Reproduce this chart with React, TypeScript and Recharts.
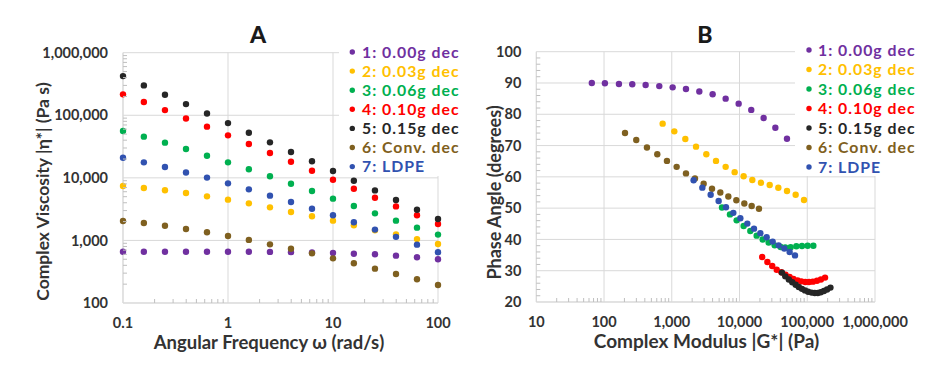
import React from 'react';
import { ScatterChart, Scatter, XAxis, YAxis, CartesianGrid } from 'recharts';

const FONT = 'Lato, "Open Sans", sans-serif';
const GRID = '#d9d9d9';
const TEXT = '#333333';

const seriesNames = ['1: 0.00g dec', '2: 0.03g dec', '3: 0.06g dec', '4: 0.10g dec', '5: 0.15g dec', '6: Conv. dec', '7: LDPE'];
const seriesColors = ['#7030A0', '#FFC000', '#00B050', '#FF0000', '#262626', '#7F6020', '#3152B0'];

// chart A: angular frequency (rad/s)
const omega = [0.1, 0.158, 0.251, 0.398, 0.631, 1, 1.58, 2.51, 3.98, 6.31, 10, 15.8, 25.1, 39.8, 63.1, 100];

// complex viscosity |eta*| (Pa s)
const eta1 = [660, 660, 660, 660, 660, 660, 658, 655, 650, 640, 630, 614, 600, 571, 537, 499];
const eta2 = [7400, 6880, 6330, 5720, 5060, 4480, 3910, 3380, 2850, 2430, 2070, 1740, 1450, 1250, 1050, 877];
const eta3 = [56000, 45500, 36500, 28900, 22600, 17700, 13700, 10600, 8070, 6170, 4650, 3550, 2710, 2070, 1600, 1240];
const eta4 = [216000, 163000, 121000, 89000, 65800, 47800, 34700, 24900, 18100, 13000, 9350, 6700, 4820, 3500, 2520, 1830];
const eta5 = [423000, 300000, 213000, 151000, 107000, 75000, 52700, 36900, 25900, 18400, 12900, 9000, 6300, 4430, 3100, 2200];
const eta6 = [2040, 1900, 1720, 1520, 1350, 1180, 1020, 866, 738, 622, 517, 431, 354, 291, 239, 194];
const eta7 = [21000, 17700, 14900, 12200, 10100, 8170, 6550, 5190, 4110, 3210, 2520, 1950, 1490, 1140, 856, 646];

// chart B: complex modulus |G*| (Pa) and phase angle (degrees)
const gStar1 = [66, 103, 166, 261, 411, 654, 1030, 1620, 2550, 4010, 6240, 9710, 14900, 22700, 33800, 50200];
const phase1 = [90.0, 89.9, 89.7, 89.6, 89.35, 89.0, 88.6, 88.1, 87.3, 86.4, 85.0, 83.4, 81.4, 78.8, 75.7, 72.2];
const gStar2 = [733, 1090, 1585, 2280, 3235, 4495, 6240, 8475, 11500, 15450, 20750, 27900, 37400, 50200, 67400, 89500];
const phase2 = [77.0, 74.55, 72.1, 69.65, 67.2, 65.1, 63.2, 61.5, 60.2, 59.0, 58.1, 57.4, 56.5, 55.5, 54.3, 52.6];
const gStar3 = [5510, 7230, 9070, 11510, 14430, 17900, 21970, 26920, 33030, 40500, 47430, 56880, 69000, 83600, 101400, 123000];
const phase3 = [50.2, 48.0, 46.1, 44.3, 42.7, 41.2, 40.0, 39.0, 38.1, 37.6, 37.4, 37.5, 37.8, 37.9, 38.0, 38.0];
const gStar4 = [21600, 25800, 30400, 35400, 41500, 47800, 54900, 62500, 72100, 82000, 93500, 106000, 121000, 139000, 159000, 183000];
const phase4 = [34.4, 32.8, 31.5, 30.3, 29.5, 28.7, 28.0, 27.4, 26.9, 26.6, 26.4, 26.4, 26.5, 26.8, 27.2, 27.8];
const gStar5 = [42300, 47400, 53500, 60100, 67500, 75000, 83500, 92700, 103000, 116000, 129000, 143000, 158000, 176000, 196000, 220000];
const phase5 = [29.4, 28.2, 27.2, 26.3, 25.5, 24.8, 24.2, 23.7, 23.3, 23.0, 22.9, 22.9, 23.1, 23.5, 24.0, 24.6];
const gStar6 = [204, 299, 430, 611, 849, 1180, 1620, 2200, 2955, 3925, 5210, 6840, 8975, 11780, 15110, 19380];
const phase6 = [74.0, 71.8, 69.4, 67.2, 65.1, 63.2, 61.1, 59.5, 57.8, 56.2, 55.0, 53.7, 52.5, 51.5, 50.7, 49.8];
const gStar7 = [2100, 2825, 3750, 4920, 6310, 8100, 10280, 13040, 16360, 20300, 25150, 30850, 37800, 45800, 54950, 65900];
const phase7 = [58.9, 56.55, 54.3, 52.3, 50.3, 48.5, 46.75, 45.05, 43.45, 42.0, 40.7, 39.3, 38.1, 37.1, 36.0, 34.9];

// axis ticks
const aXMajor = [0.1, 1, 10, 100];
const aXMinor = [0.2, 0.3, 0.4, 0.5, 0.6, 0.7, 0.8, 0.9, 2, 3, 4, 5, 6, 7, 8, 9, 20, 30, 40, 50, 60, 70, 80, 90];
const aYMajor = [100, 1000, 10000, 100000, 1000000];
const aYMinor = [200, 300, 400, 500, 600, 700, 800, 900, 2000, 3000, 4000, 5000, 6000, 7000, 8000, 9000,
  20000, 30000, 40000, 50000, 60000, 70000, 80000, 90000, 200000, 300000, 400000, 500000, 600000, 700000, 800000, 900000];
const bXMajor = [10, 100, 1000, 10000, 100000, 1000000];
const bXMinor = [20, 30, 40, 50, 60, 70, 80, 90, 200, 300, 400, 500, 600, 700, 800, 900,
  2000, 3000, 4000, 5000, 6000, 7000, 8000, 9000, 20000, 30000, 40000, 50000, 60000, 70000, 80000, 90000,
  200000, 300000, 400000, 500000, 600000, 700000, 800000, 900000];
const bYMajor = [20, 30, 40, 50, 60, 70, 80, 90, 100];
const bYMinor = [22, 24, 26, 28, 32, 34, 36, 38, 42, 44, 46, 48, 52, 54, 56, 58, 62, 64, 66, 68, 72, 74, 76, 78, 82, 84, 86, 88, 92, 94, 96, 98];

const etaSeries = [eta1, eta2, eta3, eta4, eta5, eta6, eta7];
const gSeries = [gStar1, gStar2, gStar3, gStar4, gStar5, gStar6, gStar7];
const phaseSeries = [phase1, phase2, phase3, phase4, phase5, phase6, phase7];

const fmt = (v: number) => v.toLocaleString('en-US');

const XTick = (props: any) => {
  const { x, y, payload, majors } = props;
  const v = payload.value;
  if (!majors.includes(v)) {
    return <line x1={x} x2={x} y1={y} y2={y - 4} stroke="#bfbfbf" />;
  }
  return (
    <text x={x} y={y + 25} textAnchor="middle" fontFamily={FONT} fontWeight={700} fontSize={14.5} fill={TEXT}>
      {fmt(v)}
    </text>
  );
};

const YTick = (props: any) => {
  const { x, y, payload, majors } = props;
  const v = payload.value;
  if (!majors.includes(v)) {
    return <line x1={x} x2={x + 4} y1={y} y2={y} stroke="#bfbfbf" />;
  }
  return (
    <text x={x - 15} y={y} dy="0.35em" textAnchor="end" fontFamily={FONT} fontWeight={700} fontSize={14.5} fill={TEXT}>
      {fmt(v)}
    </text>
  );
};

const dot = (color: string) => (p: any) => <circle cx={p.cx} cy={p.cy} r={3.2} fill={color} />;

const LegendBox = ({ left, top, width, height, dotX, textX, firstY, step }: any) => (
  <g>
    <rect x={left} y={top} width={width} height={height} fill="#fff" />
    {seriesNames.map((name, i) => (
      <g key={name}>
        <circle cx={dotX} cy={firstY + i * step} r={2.7} fill={seriesColors[i]} />
        <text x={textX} y={firstY + i * step} dy="0.35em" fontFamily={FONT} fontWeight={700} fontSize={15.8}
          letterSpacing={1} fill={seriesColors[i]}>
          {name}
        </text>
      </g>
    ))}
  </g>
);

export default function App() {
  const dataA = etaSeries.map((s) => omega.map((w, i) => ({ x: w, y: s[i] })));
  const dataB = gSeries.map((s, k) => s.map((g, i) => ({ x: g, y: phaseSeries[k][i] })));

  return (
    <div style={{ position: 'absolute', left: 0, top: 0, width: 937, height: 365, background: '#fff' }}>
      <div style={{ position: 'absolute', left: 0, top: 0 }}>
        <ScatterChart width={470} height={365} margin={{ top: 52.7, right: 32, bottom: 12, left: 0 }}>
          <CartesianGrid stroke={GRID} verticalValues={aXMajor} horizontalValues={aYMajor} />
          <XAxis type="number" dataKey="x" scale="log" domain={[0.1, 100]}
            ticks={[...aXMajor, ...aXMinor]} interval={0} height={50} tickSize={0} tickMargin={0}
            axisLine={{ stroke: GRID }} tickLine={false} tick={<XTick majors={aXMajor} />} />
          <YAxis type="number" dataKey="y" scale="log" domain={[100, 1000000]}
            ticks={[...aYMajor, ...aYMinor]} interval={0} width={123} tickSize={0} tickMargin={0}
            axisLine={{ stroke: GRID }} tickLine={false} tick={<YTick majors={aYMajor} />} />
          {dataA.map((d, i) => (
            <Scatter key={seriesNames[i]} name={seriesNames[i]} data={d} fill={seriesColors[i]}
              shape={dot(seriesColors[i])} isAnimationActive={false} />
          ))}
        </ScatterChart>
      </div>
      <div style={{ position: 'absolute', left: 470, top: 0 }}>
        <ScatterChart width={467} height={365} margin={{ top: 51.7, right: 62, bottom: 13, left: 0 }}>
          <CartesianGrid stroke={GRID} verticalValues={bXMajor} horizontalValues={bYMajor} />
          <XAxis type="number" dataKey="x" scale="log" domain={[10, 1000000]}
            ticks={[...bXMajor, ...bXMinor]} interval={0} height={50} tickSize={0} tickMargin={0}
            axisLine={{ stroke: GRID }} tickLine={false} tick={<XTick majors={bXMajor} />} />
          <YAxis type="number" dataKey="y" domain={[20, 100]}
            ticks={[...bYMajor, ...bYMinor]} interval={0} width={66.3} tickSize={0} tickMargin={0}
            axisLine={{ stroke: GRID }} tickLine={false} tick={<YTick majors={bYMajor} />} />
          {dataB.map((d, i) => (
            <Scatter key={seriesNames[i]} name={seriesNames[i]} data={d} fill={seriesColors[i]}
              shape={dot(seriesColors[i])} isAnimationActive={false} />
          ))}
        </ScatterChart>
      </div>
      <svg width={937} height={365} style={{ position: 'absolute', left: 0, top: 0, pointerEvents: 'none' }}>
        <LegendBox left={339} top={40} width={131} height={136} dotX={352.3} textX={362} firstY={52} step={19.1} />
        <LegendBox left={795} top={38} width={142} height={138} dotX={809} textX={818} firstY={50} step={19.5} />
        <text x={258} y={35} dy="0.35em" textAnchor="middle" fontFamily={FONT} fontWeight={900} fontSize={23} fill="#1a1a1a">A</text>
        <text x={705} y={35} dy="0.35em" textAnchor="middle" fontFamily={FONT} fontWeight={900} fontSize={23} fill="#1a1a1a">B</text>
        <text x={269} y={343} dy="0.35em" textAnchor="middle" fontFamily={FONT} fontWeight={700} fontSize={18.5} fill={TEXT}>
          Angular Frequency ω (rad/s)
        </text>
        <text transform="translate(43,191.5) rotate(-90)" dy="0.35em" textAnchor="middle" fontFamily={FONT} fontWeight={700} fontSize={17.5} fill={TEXT}>
          Complex Viscosity |η*| (Pa s)
        </text>
        <text x={706.5} y={341} dy="0.35em" textAnchor="middle" fontFamily={FONT} fontWeight={700} fontSize={19} fill={TEXT}>
          Complex Modulus |G*| (Pa)
        </text>
        <text transform="translate(495,192.5) rotate(-90)" dy="0.35em" textAnchor="middle" fontFamily={FONT} fontWeight={700} fontSize={18} fill={TEXT}>
          Phase Angle (degrees)
        </text>
      </svg>
    </div>
  );
}
